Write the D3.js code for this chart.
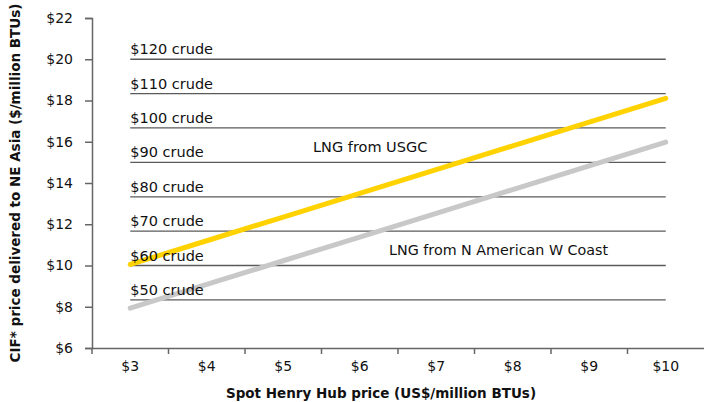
<!DOCTYPE html>
<html>
<head>
<meta charset="utf-8">
<script src="https://cdn.jsdelivr.net/npm/d3@7"></script>
<style>
  body { margin: 0; background: #fff; }
  text { font-family: "DejaVu Sans", sans-serif; fill: #111; }
</style>
</head>
<body>
<svg id="chart" width="704" height="402"></svg>
<script>
// categories on the x axis (Henry Hub spot price)
var hubPrices = ['$3', '$4', '$5', '$6', '$7', '$8', '$9', '$10'];

// delivered price of LNG, $/million BTUs
var usgcValues = [10.05, 11.2, 12.35, 13.5, 14.65, 15.8, 16.95, 18.1];
var westCoastValues = [7.93, 9.08, 10.23, 11.38, 12.53, 13.68, 14.83, 15.98];

// oil-linked reference prices
var crudeLabels = ['$120 crude', '$110 crude', '$100 crude', '$90 crude',
  '$80 crude', '$70 crude', '$60 crude', '$50 crude'];
var crudeValues = [20, 18.33, 16.67, 15, 13.33, 11.67, 10, 8.33];

var yTicks = [6, 8, 10, 12, 14, 16, 18, 20, 22];

var svg = d3.select('#chart');

var x = d3.scaleBand()
  .domain(hubPrices)
  .range([92, 704]);

var y = d3.scaleLinear()
  .domain([6, 22])
  .range([348, 18]);

var axisColor = '#666';
var mid = function (c) { return x(c) + x.bandwidth() / 2; };

// crude reference lines
var crude = svg.append('g');
crude.selectAll('line')
  .data(crudeValues)
  .enter()
  .append('line')
  .attr('x1', mid('$3'))
  .attr('x2', mid('$10'))
  .attr('y1', function (d) { return y(d); })
  .attr('y2', function (d) { return y(d); })
  .attr('stroke', '#5a5a5a')
  .attr('stroke-width', 1.3);

// the two LNG series
var line = d3.line()
  .x(function (d, i) { return mid(hubPrices[i]); })
  .y(function (d) { return y(d); });

svg.append('path')
  .datum(westCoastValues)
  .attr('d', line)
  .attr('fill', 'none')
  .attr('stroke', '#c8c8c8')
  .attr('stroke-width', 5)
  .attr('stroke-linecap', 'round');

svg.append('path')
  .datum(usgcValues)
  .attr('d', line)
  .attr('fill', 'none')
  .attr('stroke', '#ffd200')
  .attr('stroke-width', 5)
  .attr('stroke-linecap', 'round');

// crude labels sit on top of the series
svg.append('g')
  .selectAll('text')
  .data(crudeValues)
  .enter()
  .append('text')
  .attr('x', mid('$3'))
  .attr('y', function (d) { return y(d) - 5; })
  .style('font-size', '14.5px')
  .text(function (d, i) { return crudeLabels[i]; });

// series labels
svg.append('text')
  .attr('x', 313)
  .attr('y', 152)
  .style('font-size', '14.5px')
  .text('LNG from USGC');

svg.append('text')
  .attr('x', 389)
  .attr('y', 255)
  .style('font-size', '14.3px')
  .text('LNG from N American W Coast');

// y axis
var yAxis = svg.append('g')
  .attr('transform', 'translate(92,0)')
  .call(d3.axisLeft(y)
    .tickValues(yTicks)
    .tickSize(7)
    .tickPadding(12)
    .tickFormat(function (d) { return '$' + d; }));

// x axis, ticks on the band edges
var xAxis = svg.append('g')
  .attr('transform', 'translate(0,348)')
  .call(d3.axisBottom(x).tickSize(0).tickPadding(13));

xAxis.selectAll('.edge')
  .data(hubPrices)
  .enter()
  .append('line')
  .attr('x1', function (d) { return x(d); })
  .attr('x2', function (d) { return x(d); })
  .attr('y1', 0)
  .attr('y2', 6);

[yAxis, xAxis].forEach(function (g) {
  g.selectAll('path, line')
    .attr('stroke', axisColor)
    .attr('stroke-width', 1.5);
  g.selectAll('text')
    .style('font-size', '14px')
    .style('font-family', '"DejaVu Sans", sans-serif')
    .attr('fill', '#111');
});

// axis titles
svg.append('text')
  .attr('x', 381)
  .attr('y', 398)
  .attr('text-anchor', 'middle')
  .style('font-size', '13.5px')
  .style('font-weight', 'bold')
  .text('Spot Henry Hub price (US$/million BTUs)');

svg.append('text')
  .attr('transform', 'translate(20,183) rotate(-90)')
  .attr('text-anchor', 'middle')
  .style('font-size', '13.5px')
  .style('font-weight', 'bold')
  .text('CIF* price delivered to NE Asia ($/million BTUs)');
</script>
</body>
</html>
